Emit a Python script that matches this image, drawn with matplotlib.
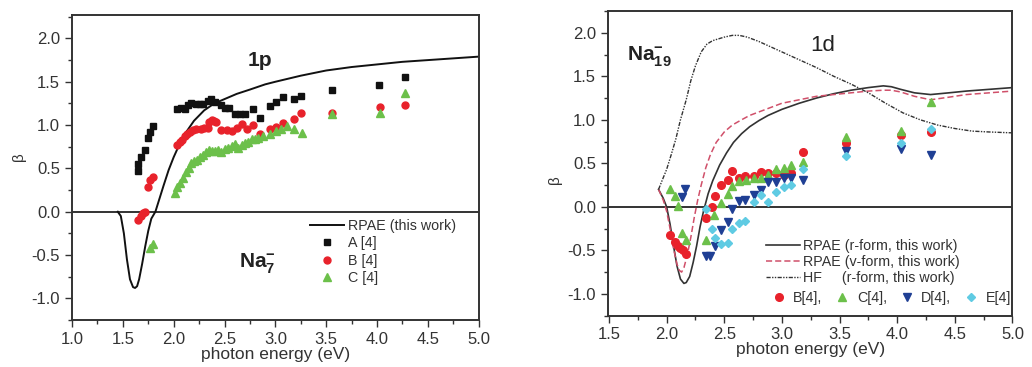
import numpy as np
import matplotlib.pyplot as plt
from matplotlib.ticker import MultipleLocator

plt.rcParams['font.family'] = ['Liberation Sans', 'DejaVu Sans']
plt.rcParams['axes.unicode_minus'] = False
plt.rcParams['mathtext.fontset'] = 'custom'
plt.rcParams['mathtext.rm'] = 'Liberation Sans'
plt.rcParams['mathtext.bf'] = 'Liberation Sans:bold'

# ---- lijevi panel: Na7-, 1p ----
rpae_x = [1.45, 1.48, 1.51, 1.54, 1.57, 1.60, 1.62, 1.64, 1.66, 1.69, 1.72, 1.75, 1.78, 1.82,
          1.86, 1.90, 1.95, 2.00, 2.05, 2.10, 2.20, 2.30, 2.40, 2.50, 2.62, 2.75, 2.90,
          3.00, 3.25, 3.50, 3.75, 4.00, 4.25, 4.50, 4.75, 5.00]
rpae_y = [0.0, -0.05, -0.25, -0.55, -0.78, -0.87, -0.88, -0.86, -0.78, -0.6, -0.4, -0.22, -0.08, 0.0,
          0.15, 0.3, 0.48, 0.63, 0.76, 0.88, 1.05, 1.17, 1.25, 1.3, 1.36, 1.41, 1.47,
          1.5, 1.57, 1.63, 1.67, 1.70, 1.73, 1.75, 1.77, 1.79]

a_x = [1.65, 1.65, 1.68, 1.72, 1.75, 1.77, 1.80, 2.03, 2.07, 2.11, 2.14, 2.17, 2.22, 2.26, 2.29,
       2.34, 2.37, 2.41, 2.47, 2.50, 2.54, 2.60, 2.65, 2.70, 2.78, 2.85, 2.95, 3.01, 3.08, 3.18,
       3.25, 3.56, 4.02, 4.28]
a_y = [0.47, 0.55, 0.63, 0.71, 0.85, 0.92, 0.99, 1.18, 1.20, 1.19, 1.23, 1.26, 1.24, 1.24, 1.24,
       1.28, 1.30, 1.27, 1.23, 1.20, 1.20, 1.13, 1.13, 1.13, 1.18, 1.08, 1.22, 1.27, 1.32, 1.30,
       1.34, 1.40, 1.46, 1.55]

b_x = [1.65, 1.68, 1.70, 1.72, 1.75, 1.77, 1.80, 2.03, 2.06, 2.08, 2.11, 2.13, 2.16, 2.19, 2.22,
       2.27, 2.30, 2.34, 2.35, 2.38, 2.40, 2.42, 2.47, 2.52, 2.57, 2.62, 2.67, 2.72, 2.78, 2.85,
       2.95, 3.01, 3.08, 3.18, 3.25, 3.56, 4.03, 4.28]
b_y = [-0.10, -0.05, -0.02, 0.0, 0.29, 0.37, 0.40, 0.77, 0.81, 0.83, 0.87, 0.90, 0.92, 0.94, 0.95,
       0.96, 0.97, 0.97, 1.03, 1.06, 1.05, 1.03, 0.94, 0.94, 0.93, 0.97, 1.01, 0.95, 1.0, 0.90,
       0.96, 0.98, 1.02, 1.07, 1.14, 1.14, 1.21, 1.23]

c_x = [1.77, 1.80, 2.01, 2.03, 2.06, 2.09, 2.12, 2.15, 2.17, 2.20, 2.23, 2.26, 2.29, 2.32, 2.35,
       2.38, 2.41, 2.44, 2.47, 2.50, 2.53, 2.57, 2.60, 2.63, 2.67, 2.70, 2.73, 2.77, 2.80, 2.83,
       2.88, 2.95, 3.01, 3.06, 3.11, 3.18, 3.26, 3.56, 4.03, 4.28]
c_y = [-0.42, -0.37, 0.22, 0.28, 0.33, 0.39, 0.46, 0.50, 0.56, 0.58, 0.60, 0.63, 0.66, 0.69, 0.71,
       0.70, 0.70, 0.71, 0.69, 0.72, 0.73, 0.76, 0.78, 0.74, 0.77, 0.79, 0.81, 0.84, 0.84, 0.85,
       0.87, 0.90, 0.93, 0.96, 0.99, 0.95, 0.91, 1.13, 1.14, 1.37]

# ---- desni panel: Na19-, 1d ----
r_x = [1.93, 1.97, 2.00, 2.03, 2.06, 2.09, 2.12, 2.15, 2.17, 2.20, 2.23, 2.26, 2.29, 2.32, 2.36,
       2.40, 2.46, 2.52, 2.58, 2.65, 2.72, 2.80, 2.88, 3.00, 3.15, 3.30, 3.45, 3.60, 3.75, 3.88,
       3.95, 4.03, 4.15, 4.29, 4.45, 4.60, 4.80, 5.00]
r_y = [0.20, 0.10, 0.0, -0.20, -0.45, -0.68, -0.83, -0.88, -0.87, -0.80, -0.64, -0.45, -0.23, -0.05, 0.15,
       0.30, 0.48, 0.62, 0.74, 0.84, 0.92, 0.99, 1.05, 1.12, 1.19, 1.25, 1.30, 1.34, 1.37, 1.39,
       1.38, 1.35, 1.31, 1.29, 1.31, 1.33, 1.35, 1.37]

v_x = [1.93, 1.97, 2.00, 2.03, 2.06, 2.09, 2.11, 2.13, 2.15, 2.18, 2.21, 2.24, 2.27, 2.30, 2.34,
       2.38, 2.43, 2.50, 2.57, 2.65, 2.72, 2.80, 2.88, 3.00, 3.15, 3.30, 3.45, 3.60, 3.75, 3.88,
       3.95, 4.03, 4.15, 4.29, 4.45, 4.60, 4.80, 5.00]
v_y = [0.20, 0.08, -0.05, -0.25, -0.48, -0.66, -0.73, -0.75, -0.70, -0.55, -0.35, -0.12, 0.08, 0.25, 0.45,
       0.60, 0.74, 0.86, 0.94, 1.00, 1.05, 1.09, 1.13, 1.19, 1.23, 1.27, 1.29, 1.31, 1.33, 1.34,
       1.34, 1.32, 1.27, 1.23, 1.26, 1.29, 1.31, 1.33]

hf_x = [1.93, 1.96, 2.00, 2.04, 2.08, 2.12, 2.17, 2.21, 2.25, 2.30, 2.35, 2.40, 2.45, 2.50, 2.57,
        2.63, 2.70, 2.80, 2.90, 3.00, 3.15, 3.30, 3.45, 3.60, 3.75, 3.90, 4.05, 4.20, 4.35, 4.50,
        4.65, 4.80, 5.00]
hf_y = [0.20, 0.30, 0.43, 0.60, 0.78, 1.00, 1.23, 1.45, 1.62, 1.78, 1.87, 1.91, 1.93, 1.95, 1.97,
        1.97, 1.95, 1.90, 1.84, 1.78, 1.69, 1.60, 1.50, 1.41, 1.31, 1.19, 1.08, 1.00, 0.94, 0.90,
        0.87, 0.86, 0.85]

rb_x = [2.03, 2.07, 2.10, 2.12, 2.14, 2.17, 2.34, 2.39, 2.42, 2.47, 2.53, 2.57, 2.63, 2.68,
        2.76, 2.82, 2.88, 2.95, 3.02, 3.08, 3.18, 3.56, 4.03, 4.29]
rb_y = [-0.32, -0.40, -0.45, -0.47, -0.50, -0.54, -0.13, 0.0, 0.12, 0.25, 0.31, 0.41, 0.33, 0.35,
        0.35, 0.40, 0.39, 0.39, 0.37, 0.39, 0.63, 0.73, 0.83, 0.86]

rc_x = [2.03, 2.07, 2.10, 2.13, 2.17, 2.34, 2.41, 2.47, 2.53, 2.57, 2.63, 2.69, 2.76, 2.82,
        2.88, 2.95, 3.02, 3.08, 3.18, 3.56, 4.03, 4.29]
rc_y = [0.21, 0.12, 0.01, -0.30, -0.38, -0.38, -0.09, 0.04, 0.15, 0.24, 0.30, 0.31, 0.33, 0.33,
        0.37, 0.43, 0.45, 0.48, 0.52, 0.80, 0.87, 1.20]

rd_x = [2.13, 2.16, 2.34, 2.38, 2.42, 2.47, 2.53, 2.57, 2.63, 2.68, 2.76, 2.82, 2.88, 2.95,
        3.02, 3.08, 3.18, 3.56, 4.03, 4.29]
rd_y = [0.11, 0.20, -0.57, -0.57, -0.45, -0.27, -0.18, -0.02, 0.07, 0.08, 0.14, 0.19, 0.28, 0.28,
        0.33, 0.33, 0.31, 0.64, 0.66, 0.60]

re_x = [2.34, 2.39, 2.42, 2.47, 2.53, 2.57, 2.63, 2.68, 2.76, 2.82, 2.88, 2.95, 3.02, 3.08,
        3.18, 3.56, 4.03, 4.29]
re_y = [-0.02, -0.26, -0.36, -0.43, -0.41, -0.26, -0.19, -0.16, 0.06, 0.14, 0.06, 0.17, 0.23, 0.25,
        0.43, 0.58, 0.73, 0.90]

crna = '#111111'
crvena = '#e8222b'
zelena = '#6cc04a'
plava = '#1f3f94'
cijan = '#5fcbe3'
siva = '#333333'


def uredi_osi(ax, xlim, ylim, y_oznake):
    ax.set_xlim(*xlim)
    ax.set_ylim(*ylim)
    ax.xaxis.set_major_locator(MultipleLocator(0.5))
    ax.xaxis.set_minor_locator(MultipleLocator(0.25))
    ax.yaxis.set_major_locator(MultipleLocator(0.5))
    ax.yaxis.set_minor_locator(MultipleLocator(0.25))
    ax.tick_params(which='both', direction='out', top=False, right=False, color=siva,
                   labelcolor=siva, labelsize=12, width=1.0)
    ax.tick_params(which='major', length=5)
    ax.tick_params(which='minor', length=3)
    for s in ax.spines.values():
        s.set_color(siva)
        s.set_linewidth(1.4)
    ax.axhline(0, color=siva, linewidth=1.4, zorder=1)
    ax.set_xlabel('photon energy (eV)', fontsize=12.5, color=siva, labelpad=0)
    ax.set_ylabel('β', fontsize=11, color=siva, labelpad=4, y=y_oznake)


fig = plt.figure(figsize=(10.32, 3.67), dpi=100)

ax1 = fig.add_axes([0.0698, 0.128, 0.394, 0.831])
uredi_osi(ax1, (1.0, 5.0), (-1.25, 2.27), 0.535)
ax1.plot(rpae_x, rpae_y, color=crna, linewidth=1.4, label='RPAE (this work)')
ax1.plot(a_x, a_y, 's', color=crna, markersize=4.5, linestyle='none', label='A [4]')
ax1.plot(b_x, b_y, 'o', color=crvena, markersize=5, linestyle='none', label='B [4]')
ax1.plot(c_x, c_y, '^', color=zelena, markersize=5.5, linestyle='none', label='C [4]')
ax1.text(2.85, 1.74, '1p', fontsize=15, fontweight='bold', color='#222222', ha='center', va='center')
ax1.text(2.82, -0.6, r'$\mathbf{Na}_{\mathbf{7}}^{\mathbf{-}}$', fontsize=15,
         color='#222222', ha='center', va='center')
ax1.legend(loc='upper left', bbox_to_anchor=(0.56, 0.365), frameon=False, fontsize=10.3,
           handlelength=2.4, handletextpad=0.3, labelspacing=0.25, borderpad=0.2, labelcolor=siva)

ax2 = fig.add_axes([0.589, 0.140, 0.392, 0.830])
uredi_osi(ax2, (1.49, 5.0), (-1.25, 2.25), 0.445)
l1, = ax2.plot(r_x, r_y, color='#333333', linewidth=1.2, label='RPAE (r-form, this work)')
l2, = ax2.plot(v_x, v_y, '--', color='#d0506a', linewidth=1.1, dashes=(4, 2),
               label='RPAE (v-form, this work)')
l3, = ax2.plot(hf_x, hf_y, color='#333333', linewidth=1.0, dashes=(3, 1, 1, 1, 1, 1),
               label='HF     (r-form, this work)')
p1, = ax2.plot(rb_x, rb_y, 'o', color=crvena, markersize=5.5, linestyle='none', label='B[4],')
p2, = ax2.plot(rc_x, rc_y, '^', color=zelena, markersize=5.5, linestyle='none', label='C[4],')
p3, = ax2.plot(rd_x, rd_y, 'v', color=plava, markersize=5.5, linestyle='none', label='D[4],')
p4, = ax2.plot(re_x, re_y, 'D', color=cijan, markersize=4.5, linestyle='none', label='E[4]')
ax2.text(1.66, 1.72, r'$\mathbf{Na}_{\mathbf{19}}^{\mathbf{-}}$', fontsize=15,
         color='#222222', ha='left', va='center')
ax2.text(3.35, 1.85, '1d', fontsize=16, color='#222222', ha='center', va='center')
leg1 = ax2.legend(handles=[l1, l2, l3], loc='upper left', bbox_to_anchor=(0.37, 0.28),
                  frameon=False, fontsize=10.3, handlelength=2.4, handletextpad=0.2,
                  labelspacing=0.15, borderpad=0.1, labelcolor=siva)
ax2.add_artist(leg1)
ax2.legend(handles=[p1, p2, p3, p4], loc='upper left', bbox_to_anchor=(0.38, 0.11), ncol=4,
           frameon=False, fontsize=10.3, handlelength=1.2, handletextpad=0.4, columnspacing=0.8,
           borderpad=0.1, labelcolor=siva)

plt.savefig('out.png', dpi=100)
